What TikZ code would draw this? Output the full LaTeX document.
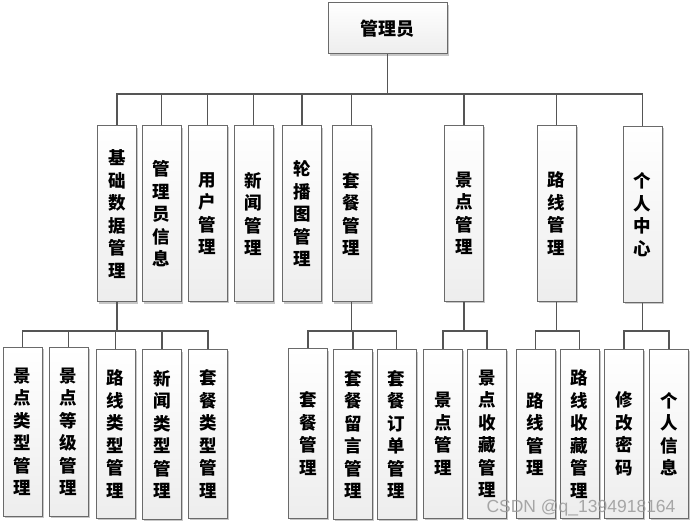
\documentclass[tikz,border=0pt]{standalone}
\usepackage{fontspec}
\setmainfont{Noto Sans CJK SC}
\newfontfamily\wmfont{Liberation Sans}
\usetikzlibrary{shadows}
\definecolor{linec}{HTML}{555555}
\definecolor{boxline}{HTML}{6A6A6A}
\tikzset{
  box/.style={draw=boxline, line width=1pt, top color=white, bottom color=gray!14,
    drop shadow={shadow xshift=1.8pt, shadow yshift=-1.8pt, fill=black, opacity=0.22},
    minimum width=39pt, inner sep=0pt, align=center,
    font=\bfseries\fontsize{17.5}{22.5}\selectfont},
  lone/.style={box, minimum height=176pt},
  ltwo/.style={box, minimum height=169pt},
  conn/.style={draw=linec, line width=1.2pt},
}
\begin{document}
\begin{tikzpicture}[x=1pt,y=-1pt]
\useasboundingbox (0,0) rectangle (693,526);
\fill[white] (0,0) rectangle (693,526);
\coordinate (bus) at (0,94);
\coordinate (sbus) at (0,331);
% root
\node[box, minimum width=119pt, minimum height=51pt, font=\bfseries\fontsize{18}{20}\selectfont] (root) at (387.5,28.5) {管理员};
% level 1
\node[lone] (jc) at (117,214) {基\\础\\数\\据\\管\\理};
\node[lone] (gly) at (161.5,214) {管\\理\\员\\信\\息};
\node[lone] (yh) at (207.5,213.5) {用\\户\\管\\理};
\node[lone] (xw) at (253.5,214) {新\\闻\\管\\理};
\node[lone] (lb) at (302,214) {轮\\播\\图\\管\\理};
\node[lone] (tc) at (351.5,214) {套\\餐\\管\\理};
\node[lone] (jd) at (464,213.5) {景\\点\\管\\理};
\node[lone] (lx) at (556.5,213.5) {路\\线\\管\\理};
\node[lone] (gr) at (642.5,214.5) {个\\人\\中\\心};
% level 2
\node[ltwo] (a) at (22.5,432) {景\\点\\类\\型\\管\\理};
\node[ltwo] (b) at (68.5,432) {景\\点\\等\\级\\管\\理};
\node[ltwo] (c) at (115.5,434) {路\\线\\类\\型\\管\\理};
\node[ltwo] (d) at (162,434.5) {新\\闻\\类\\型\\管\\理};
\node[ltwo] (e) at (208,434) {套\\餐\\类\\型\\管\\理};
\node[ltwo] (f) at (308,433.5) {套\\餐\\管\\理};
\node[ltwo] (g) at (353,434.5) {套\\餐\\留\\言\\管\\理};
\node[ltwo] (h) at (396.5,434.5) {套\\餐\\订\\单\\管\\理};
\node[ltwo] (i) at (443,434) {景\\点\\管\\理};
\node[ltwo] (j) at (487,434) {景\\点\\收\\藏\\管\\理};
\node[ltwo] (k) at (535.5,434) {路\\线\\管\\理};
\node[ltwo] (l) at (579.5,434) {路\\线\\收\\藏\\管\\理};
\node[ltwo] (m) at (624,434) {修\\改\\密\\码};
\node[ltwo] (n) at (669,434) {个\\人\\信\\息};
% connectors
\foreach \n in {jc,gly,yh,xw,lb,tc,jd,lx,gr}
  \draw[conn] (root.south) -- (root.south |- bus) -| (\n.north);
\foreach \n in {a,b,c,d,e}
  \draw[conn] (jc.south) -- (jc.south |- sbus) -| (\n.north);
\foreach \n in {f,g,h}
  \draw[conn] (tc.south) -- (tc.south |- sbus) -| (\n.north);
\foreach \n in {i,j}
  \draw[conn] (jd.south) -- (jd.south |- sbus) -| (\n.north);
\foreach \n in {k,l}
  \draw[conn] (lx.south) -- (lx.south |- sbus) -| (\n.north);
\foreach \n in {m,n}
  \draw[conn] (gr.south) -- (gr.south |- sbus) -| (\n.north);
% watermark
\node[text=black!40, text opacity=0.85, font=\wmfont\fontsize{17.5}{18}\selectfont, inner sep=0pt] (wm) at (581,508) {CSDN @q\_1394918164};
\end{tikzpicture}
\end{document}
